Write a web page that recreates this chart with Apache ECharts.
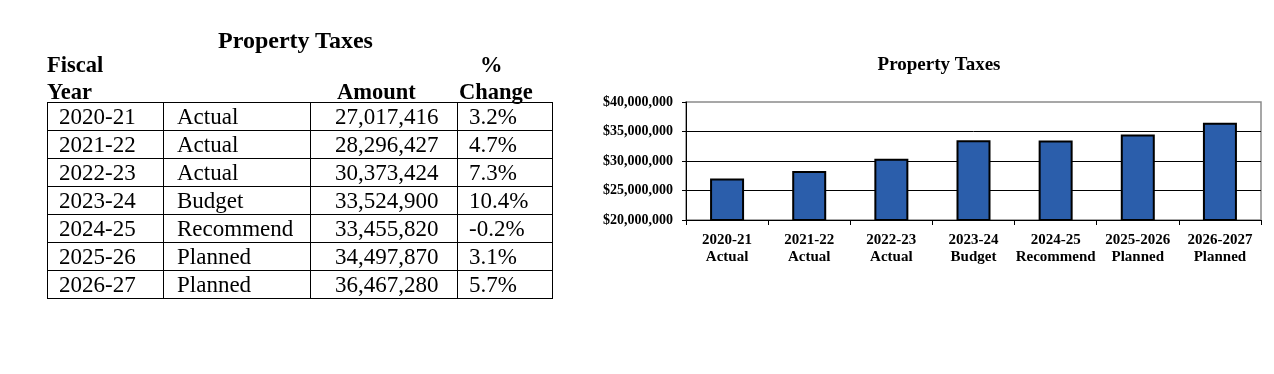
<!DOCTYPE html>
<html>
<head>
<meta charset="utf-8">
<script src="https://cdn.jsdelivr.net/npm/echarts@6/dist/echarts.min.js"></script>
<style>
  html, body { margin: 0; padding: 0; background: #fff; width: 1274px; height: 374px; overflow: hidden; }
  #chart { position: absolute; left: 0; top: 0; width: 1274px; height: 374px; }
  #left { position: absolute; left: 0; top: 0; width: 600px; height: 374px; font-family: 'Liberation Serif', 'Times New Roman', serif; color: #000; }
  .hdr { position: absolute; font-weight: bold; font-size: 22.5px; line-height: 1; white-space: nowrap; }
  table { position: absolute; left: 47px; top: 102px; border-collapse: collapse; font-size: 23px; }
  td { border: 1px solid #000; height: 27px; padding: 0; line-height: 27px; white-space: nowrap; }
</style>
</head>
<body>
<div id="chart"></div>
<div id="left">
  <div class="hdr" id="ttl" style="left:218px; top:28px; font-size:24px;">Property Taxes</div>
  <div class="hdr" style="left:47px; top:54px;">Fiscal</div>
  <div class="hdr" style="left:47px; top:81px;">Year</div>
  <div class="hdr" style="left:337px; top:81px;">Amount</div>
  <div class="hdr" style="left:480px; top:54px;">%</div>
  <div class="hdr" style="left:459px; top:81px;">Change</div>
  <table id="tbl"></table>
</div>
<script>
const chartTitle = 'Property Taxes';
const fiscalYears = ['2020-21', '2021-22', '2022-23', '2023-24', '2024-25', '2025-26', '2026-27'];
const statuses = ['Actual', 'Actual', 'Actual', 'Budget', 'Recommend', 'Planned', 'Planned'];
const amounts = [27017416, 28296427, 30373424, 33524900, 33455820, 34497870, 36467280];
const pctChanges = ['3.2%', '4.7%', '7.3%', '10.4%', '-0.2%', '3.1%', '5.7%'];
const chartYearLabels = ['2020-21', '2021-22', '2022-23', '2023-24', '2024-25', '2025-2026', '2026-2027'];
const yMin = 20000000;
const yMax = 40000000;
const yStep = 5000000;

function fmt(n) { return n.toLocaleString('en-US'); }

// Table
const tbl = document.getElementById('tbl');
const colW = [115, 146, 146, 94];
const padL = [11, 13, 24, 11];
for (let i = 0; i < fiscalYears.length; i++) {
  const tr = document.createElement('tr');
  const cells = [fiscalYears[i], statuses[i], fmt(amounts[i]), pctChanges[i]];
  cells.forEach((c, j) => {
    const td = document.createElement('td');
    td.textContent = c;
    td.style.cssText = 'width:' + (colW[j] - padL[j]) + 'px;padding-left:' + padL[j] + 'px';
    tr.appendChild(td);
  });
  tbl.appendChild(tr);
}

// Chart
const chart = echarts.init(document.getElementById('chart'), null, { renderer: 'canvas' });
const font = 'Liberation Serif';
chart.setOption({
  backgroundColor: '#fff',
  animation: false,
  title: {
    text: chartTitle,
    left: 934,
    top: 51,
    textAlign: 'center',
    textStyle: { fontFamily: font, fontWeight: 'bold', fontSize: 19, color: '#000' }
  },
  grid: {
    left: 686, top: 102, width: 575, height: 118,
    show: true, borderColor: '#8a8a8a', borderWidth: 1.5, backgroundColor: 'transparent'
  },
  xAxis: {
    type: 'category',
    data: chartYearLabels.map((y, i) => y + '\n' + statuses[i]),
    axisLine: { lineStyle: { color: '#000', width: 1 } },
    axisTick: { show: true, length: 5, lineStyle: { color: '#000' } },
    axisLabel: {
      interval: 0, margin: 12, color: '#000',
      fontFamily: font, fontWeight: 'bold', fontSize: 15, lineHeight: 17
    }
  },
  yAxis: {
    type: 'value',
    min: yMin, max: yMax, interval: yStep,
    axisLine: { show: true, lineStyle: { color: '#000', width: 1 } },
    axisTick: { show: true, length: 4, lineStyle: { color: '#000' } },
    splitLine: { show: true, showMaxLine: false, lineStyle: { color: '#000', width: 1 } },
    axisLabel: {
      margin: 13, color: '#000',
      fontFamily: font, fontWeight: 'bold', fontSize: 14,
      formatter: v => '$' + fmt(v)
    }
  },
  series: [{
    type: 'bar',
    data: amounts,
    barWidth: 34,
    itemStyle: { color: '#2B5EAB', borderColor: '#000', borderWidth: 2 }
  }]
});
</script>
</body>
</html>
